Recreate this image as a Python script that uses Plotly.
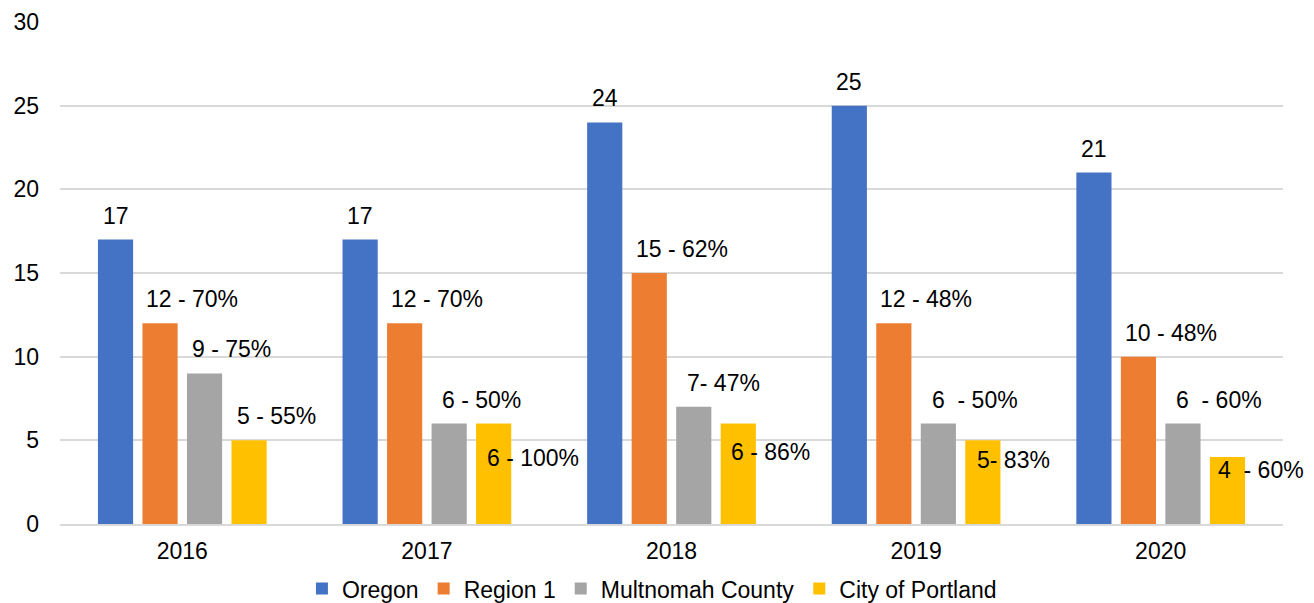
import plotly.graph_objects as go

years = ["2016", "2017", "2018", "2019", "2020"]
series = ["Oregon", "Region 1", "Multnomah County", "City of Portland"]
oregon = [17, 17, 24, 25, 21]
region1 = [12, 12, 15, 12, 10]
multnomah = [9, 6, 7, 6, 6]
portland = [5, 6, 6, 5, 4]

oregon_labels = ["17", "17", "24", "25", "21"]
region1_labels = ["12 - 70%", "12 - 70%", "15 - 62%", "12 - 48%", "10 - 48%"]
multnomah_labels = ["9 - 75%", "6 - 50%", "7- 47%", "6\u00a0\u00a0- 50%", "6\u00a0\u00a0- 60%"]
portland_labels = ["5 - 55%", "6 - 100%", "6 - 86%", "5- 83%", "4\u00a0 - 60%"]

colors = ["#4472C4", "#ED7D31", "#A5A5A5", "#FFC000"]
values = [oregon, region1, multnomah, portland]
labels = [oregon_labels, region1_labels, multnomah_labels, portland_labels]

FONT = "Liberation Sans, Arial, sans-serif"
fig = go.Figure()
for name, vals, col in zip(series, values, colors):
    fig.add_trace(go.Bar(x=years, y=vals, name=name, marker_color=col,
                         marker_line_width=0))

# label placement (pixels): horizontal offset of label left edge from bar left, vertical shift
slot = 44.5
barw = 35
dx = [
    None,
    [1, 2, 2, 2, 2],
    [3, 8, 9, 9, 9],
    [3, 9, 8, 10, 6],
]
dy = [
    [24] * 5,
    [24] * 5,
    [24] * 5,
    [24, -34, -28, -20, -13],
]
ann = []
for s in range(4):
    for i, yr in enumerate(years):
        center = (s - 1.5) * slot
        if s == 0:
            ann.append(dict(x=i, y=values[s][i], text=labels[s][i], showarrow=False,
                            xanchor="center", yanchor="middle", xshift=center,
                            yshift=dy[s][i], font=dict(size=23, color="#000", family=FONT)))
        else:
            left = center - barw / 2 + dx[s][i]
            ann.append(dict(x=i, y=values[s][i], text=labels[s][i], showarrow=False,
                            xanchor="left", yanchor="middle", xshift=left,
                            yshift=dy[s][i], font=dict(size=23, color="#000", family=FONT)))

fig.update_layout(
    width=1306, height=595,
    margin=dict(l=52, r=31, t=14, b=79, autoexpand=False),
    plot_bgcolor="white", paper_bgcolor="white",
    barmode="group", bargap=0.272, bargroupgap=0.21,
    font=dict(family=FONT, size=23, color="#000"),
    annotations=ann,
    legend=dict(orientation="h", x=0.484, xanchor="center", y=-0.086, yanchor="top",
                font=dict(size=23, color="#000"), itemwidth=30, tracegroupgap=0),
    showlegend=True,
)
fig.update_xaxes(type="category", range=[-0.5, 4.5], showgrid=False, showline=True,
                 linecolor="#d9d9d9", linewidth=2, ticks="",
                 tickfont=dict(size=23, color="#000"), ticklabelstandoff=5)
fig.update_yaxes(range=[0, 30], dtick=5, tick0=0, showgrid=True, gridcolor="#d9d9d9",
                 gridwidth=1.5, zeroline=False, showline=False, ticks="",
                 tickfont=dict(size=23, color="#000"), ticklabelstandoff=20)

fig.write_html("out.html")
